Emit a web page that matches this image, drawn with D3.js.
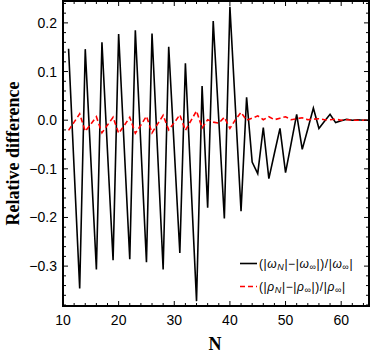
<!DOCTYPE html>
<html><head><meta charset="utf-8">
<script src="https://cdn.jsdelivr.net/npm/d3@7"></script>
<style>body{margin:0;background:#fff}svg{display:block}</style>
</head><body>
<svg id="c" width="371" height="354"></svg>
<script>
const N = d3.range(11, 66);
const omegaDiff = [0.147,-0.100,-0.346,0.146,-0.080,-0.307,0.160,-0.065,-0.288,0.177,
 -0.055,-0.286,0.185,-0.053,-0.292,0.178,-0.065,-0.307,0.151,-0.060,
 -0.273,0.117,-0.128,-0.372,0.070,-0.180,0.204,0.001,-0.202,0.233,
 0.023,-0.187,0.047,-0.086,-0.110,-0.015,-0.120,-0.068,-0.017,-0.108,
 -0.048,0.012,-0.060,-0.018,0.025,-0.017,-0.002,0.012,-0.005,-0.001,
 0.002,0.000,0.001,0.000,0.000];
const rhoDiff = [-0.021,-0.004,0.013,-0.023,-0.008,0.007,-0.026,-0.010,0.006,-0.027,
 -0.011,0.006,-0.027,-0.010,0.008,-0.026,-0.008,0.010,-0.020,-0.005,
 0.011,-0.021,-0.001,0.019,-0.016,0.001,-0.004,-0.006,0.006,-0.017,
 0.001,0.016,0.000,0.004,0.009,0.001,0.007,0.001,0.004,0.007,
 0.001,0.003,0.005,0.001,0.002,0.003,0.001,0.001,0.002,0.000,
 0.001,0.000,0.000,0.000,0.000];
const xTicks = [10,20,30,40,50,60];
const yTicks = [-0.3,-0.2,-0.1,0.0,0.1,0.2];
const xDomain = [10, 65];
const yDomain = [-0.382, 0.245];

const svg = d3.select("#c");
const L = 63, R = 369, T = 1, B = 306;
const x = d3.scaleLinear().domain(xDomain).range([L, R]);
const y = d3.scaleLinear().domain(yDomain).range([B, T]);

const g = svg.append("g");
svg.append("clipPath").attr("id","clip").append("rect")
  .attr("x",L).attr("y",T).attr("width",R-L).attr("height",B-T);

const line = (vals) => d3.line().x((d,i)=>x(N[i])).y(d=>y(d))(vals);
g.append("path").attr("d", line(omegaDiff)).attr("clip-path","url(#clip)")
  .attr("fill","none").attr("stroke","#000").attr("stroke-width",1.6).attr("stroke-linejoin","miter");
g.append("path").attr("d", line(rhoDiff)).attr("clip-path","url(#clip)")
  .attr("fill","none").attr("stroke","#f00").attr("stroke-width",1.6).attr("stroke-dasharray","5,3");

const xMinor = d3.range(10, 66, 2).filter(v=>v%10!==0);
const yMinor = d3.range(-38, 25, 2).map(v=>v/100).filter(v=>Math.abs(Math.round(v*100)%10)!==0);
const tk = svg.append("g").attr("stroke","#000").attr("stroke-width",1);
xTicks.forEach(v=>{
  tk.append("line").attr("x1",x(v)).attr("x2",x(v)).attr("y1",B).attr("y2",B-5);
  tk.append("line").attr("x1",x(v)).attr("x2",x(v)).attr("y1",T).attr("y2",T+5);
});
xMinor.forEach(v=>{
  tk.append("line").attr("x1",x(v)).attr("x2",x(v)).attr("y1",B).attr("y2",B-3);
  tk.append("line").attr("x1",x(v)).attr("x2",x(v)).attr("y1",T).attr("y2",T+3);
});
yTicks.forEach(v=>{
  tk.append("line").attr("x1",L).attr("x2",L+5).attr("y1",y(v)).attr("y2",y(v));
  tk.append("line").attr("x1",R).attr("x2",R-5).attr("y1",y(v)).attr("y2",y(v));
});
yMinor.forEach(v=>{
  tk.append("line").attr("x1",L).attr("x2",L+3).attr("y1",y(v)).attr("y2",y(v));
  tk.append("line").attr("x1",R).attr("x2",R-3).attr("y1",y(v)).attr("y2",y(v));
});

svg.append("rect").attr("x",L).attr("y",T).attr("width",R-L).attr("height",B-T)
  .attr("fill","none").attr("stroke","#000").attr("stroke-width",2);

const lab = svg.append("g").attr("font-family","Liberation Sans, Arial, sans-serif").attr("font-size",14).attr("fill","#000");
xTicks.forEach(v=>{
  lab.append("text").attr("x",x(v)).attr("y",325).attr("text-anchor","middle").text(v);
});
yTicks.forEach(v=>{
  const s = v===0 ? "0.0" : (v<0 ? "\u2212"+Math.abs(v).toFixed(1) : v.toFixed(1));
  lab.append("text").attr("x",57).attr("y",y(v)+5).attr("text-anchor","end").text(s);
});

svg.append("text").attr("x",215).attr("y",350).attr("text-anchor","middle")
  .attr("font-family","Liberation Serif, Times New Roman, serif").attr("font-weight","bold").attr("font-size",18).text("N");
svg.append("text").attr("transform","translate(19,153.5) rotate(-90)").attr("text-anchor","middle")
  .attr("font-family","Liberation Serif, Times New Roman, serif").attr("font-weight","bold").attr("font-size",18).text("Relative difference");

const lg = svg.append("g").attr("font-family","Liberation Sans, Arial, sans-serif").attr("font-size",12).attr("letter-spacing",0.6);
lg.append("line").attr("x1",240).attr("x2",257).attr("y1",263.5).attr("y2",263.5).attr("stroke","#000").attr("stroke-width",1.6);
lg.append("line").attr("x1",240).attr("x2",257).attr("y1",286.5).attr("y2",286.5).attr("stroke","#f00").attr("stroke-width",1.6).attr("stroke-dasharray","5,3");
function legText(yy, sym){
  const t = lg.append("text").attr("x",259).attr("y",yy);
  t.append("tspan").text("(|");
  t.append("tspan").attr("font-style","italic").text(sym);
  t.append("tspan").attr("font-style","italic").attr("font-size",9).attr("dy",2).text("N");
  t.append("tspan").attr("dy",-2).text("|\u2212|");
  t.append("tspan").attr("font-style","italic").text(sym);
  t.append("tspan").attr("font-size",9).attr("dy",2).text("\u221E");
  t.append("tspan").attr("dy",-2).text("|)/|");
  t.append("tspan").attr("font-style","italic").text(sym);
  t.append("tspan").attr("font-size",9).attr("dy",2).text("\u221E");
  t.append("tspan").attr("dy",-2).text("|");
}
legText(268, "\u03C9");
legText(291, "\u03C1");
</script>
</body></html>
